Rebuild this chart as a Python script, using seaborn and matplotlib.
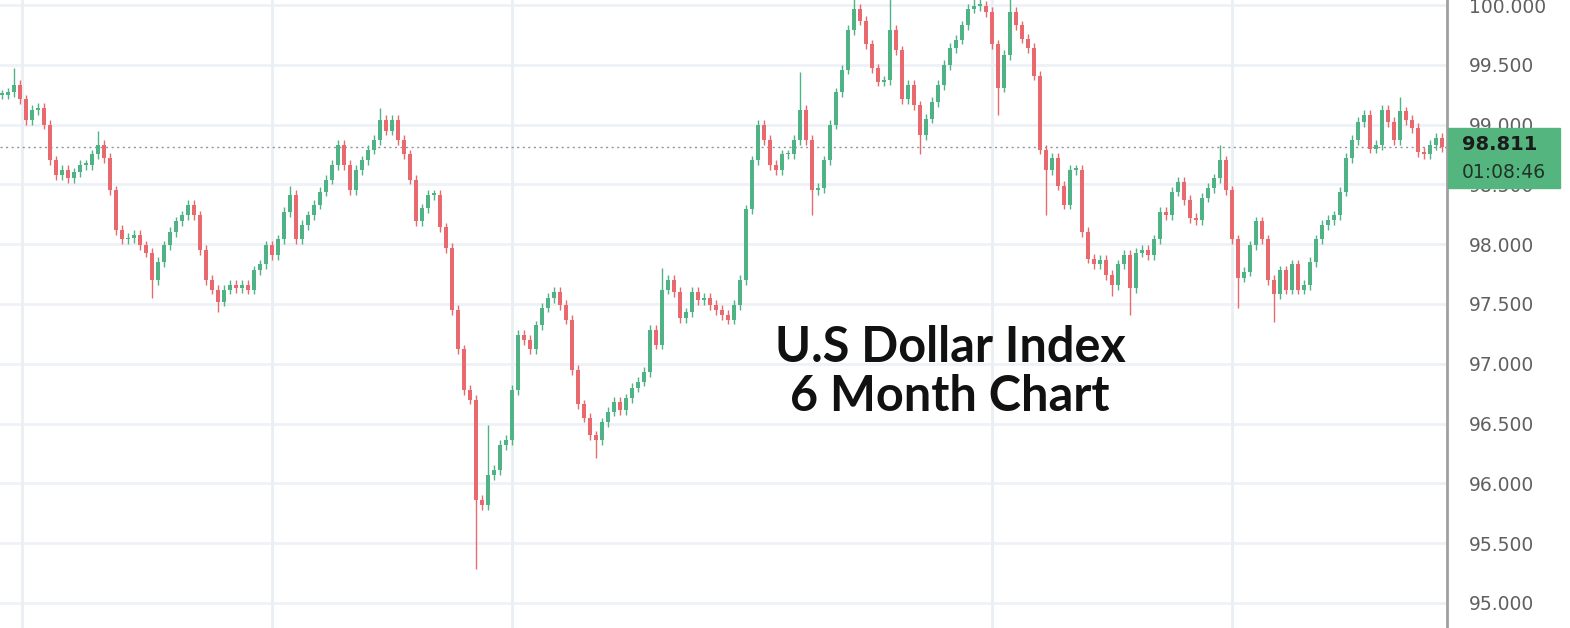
import matplotlib
matplotlib.use('Agg')
import matplotlib.pyplot as plt
import seaborn as sns
import numpy as np
import pandas as pd

# closing prices, one candle per bar (hourly-ish)
closes = [
    99.25, 99.27, 99.33, 99.21, 99.04, 99.12, 99.14, 99.00, 98.70, 98.58,
    98.62, 98.55, 98.60, 98.66, 98.66, 98.75, 98.83, 98.72, 98.45, 98.12,
    98.04, 98.05, 98.08, 97.99, 97.93, 97.70, 97.85, 97.99, 98.10, 98.19,
    98.24, 98.33, 98.24, 97.95, 97.70, 97.62, 97.52, 97.62, 97.66, 97.63,
    97.66, 97.62, 97.78, 97.83, 97.99, 97.91, 98.04, 98.27, 98.41, 98.04,
    98.16, 98.24, 98.33, 98.44, 98.54, 98.66, 98.83, 98.66, 98.45, 98.62,
    98.70, 98.79, 98.87, 99.04, 98.95, 99.04, 98.87, 98.75, 98.54, 98.19,
    98.30, 98.41, 98.41, 98.14, 97.97, 97.45, 97.12, 96.78, 96.70, 95.86,
    95.82, 96.07, 96.11, 96.32, 96.36, 96.78, 97.24, 97.20, 97.12, 97.32,
    97.47, 97.55, 97.60, 97.49, 97.37, 96.95, 96.66, 96.55, 96.40, 96.36,
    96.51, 96.60, 96.68, 96.61, 96.71, 96.80, 96.85, 96.93, 97.28, 97.16,
    97.62, 97.70, 97.60, 97.38, 97.43, 97.60, 97.53, 97.55, 97.49, 97.45,
    97.41, 97.37, 97.49, 97.70, 98.29, 98.70, 99.00, 98.87, 98.66, 98.62,
    98.75, 98.75, 98.87, 99.12, 98.87, 98.45, 98.47, 98.70, 99.00, 99.27,
    99.46, 99.79, 99.97, 99.87, 99.67, 99.47, 99.36, 99.37, 99.79, 99.62,
    99.21, 99.33, 99.16, 98.91, 99.05, 99.19, 99.33, 99.50, 99.64, 99.71,
    99.83, 99.97, 99.99, 99.99, 99.94, 99.67, 99.31, 99.58, 99.94, 99.83,
    99.72, 99.64, 99.41, 98.79, 98.62, 98.72, 98.49, 98.33, 98.62, 98.62,
    98.10, 97.88, 97.83, 97.87, 97.74, 97.66, 97.83, 97.91, 97.63, 97.93,
    97.95, 97.91, 98.04, 98.27, 98.24, 98.44, 98.52, 98.37, 98.22, 98.20,
    98.39, 98.47, 98.55, 98.70, 98.45, 98.04, 97.72, 97.77, 97.99, 98.19,
    98.04, 97.70, 97.58, 97.78, 97.62, 97.83, 97.62, 97.66, 97.85, 98.04,
    98.16, 98.20, 98.24, 98.44, 98.72, 98.87, 99.02, 99.08, 98.80, 98.83,
    99.12, 99.02, 98.87, 99.11, 99.04, 98.97, 98.77, 98.75, 98.83, 98.89,
    98.811,
]
# long wicks that stick out of the candles (candle index -> price)
wick_highs = {2: 99.47, 16: 98.95, 31: 98.37, 48: 98.49, 63: 99.14, 81: 96.49,
              110: 97.80, 133: 99.44, 142: 100.05, 148: 100.05, 162: 100.05,
              163: 100.05, 168: 100.05, 203: 98.83, 233: 99.23}
wick_lows = {25: 97.55, 36: 97.43, 79: 95.28, 99: 96.21, 135: 98.24, 153: 98.75,
             166: 99.08, 174: 98.24, 185: 97.57, 188: 97.41, 206: 97.47, 212: 97.35}

yticks = [95.0, 95.5, 96.0, 96.5, 97.0, 97.5, 98.0, 98.5, 99.0, 99.5, 100.0]
vgrid = [3.3, 45, 85, 165, 205]
last_price = "98.811"
countdown = "01:08:46"
title = "U.S Dollar Index\n6 Month Chart"

df = pd.DataFrame({"close": closes})
df["open"] = df["close"].shift(1).fillna(df["close"])
df["high"] = df[["open", "close"]].max(axis=1) + 0.04
df["low"] = df[["open", "close"]].min(axis=1) - 0.04
for k, v in wick_highs.items():
    df.loc[k, "high"] = v
for k, v in wick_lows.items():
    df.loc[k, "low"] = v
df["up"] = df["close"] >= df["open"]

sns.set_style("white")
plt.rcParams['font.family'] = ['DejaVu Sans']

fig = plt.figure(figsize=(15.7, 6.28), dpi=100)
ax = fig.add_axes([0, 0, 1447 / 1570, 1])

green, red = "#4fb386", "#e8696e"
colors = np.where(df["up"], green, red)
x = df.index.values

ax.vlines(x, df["low"], df["high"], colors=colors, linewidth=1, zorder=3)
body = (df["close"] - df["open"]).abs().clip(lower=0.015)
ax.bar(x, body, bottom=df[["open", "close"]].min(axis=1), width=0.7,
       color=colors, linewidth=0, zorder=4)

ax.set_xlim(-0.35, 240.8)
ax.set_ylim(94.79, 100.042)

ax.set_yticks(yticks)
ax.set_yticklabels([f"{t:.3f}" for t in yticks])
ax.yaxis.tick_right()
ax.tick_params(axis='y', length=0, pad=16, labelsize=13.5, labelcolor="#606060")
ax.set_xticks([])

for t in yticks:
    ax.axhline(t, color="#eef1f5", linewidth=2, zorder=1)
for v in vgrid:
    ax.axvline(v, color="#eaeff4", linewidth=2, zorder=1)

ax.axhline(float(last_price), color="#8f949c", linewidth=1,
           linestyle=(0, (1.5, 2.5)), zorder=2)

for s in ["top", "left", "bottom"]:
    ax.spines[s].set_visible(False)
ax.spines["right"].set_color("#a0a0a0")
ax.spines["right"].set_linewidth(2)

ax.text(0.6565, 0.408, title, transform=ax.transAxes, ha="center", va="center",
        fontsize=35, fontweight="bold", family="Lato", color="#111111",
        linespacing=1.12, zorder=6)

# price label on the right axis
box = plt.Rectangle((1448 / 1570, (628 - 188) / 628), 112 / 1570, 60 / 628,
                    transform=fig.transFigure, color="#55b57f", zorder=10)
fig.patches.append(box)
fig.text(1462 / 1570, (628 - 145) / 628, last_price, ha="left", va="center",
         fontsize=14, fontweight="bold", color="#1b1b1b", zorder=11)
fig.text(1462 / 1570, (628 - 172) / 628, countdown, ha="left", va="center",
         fontsize=13.5, color="#1f3326", zorder=11)

fig.savefig("out.png", dpi=100)
